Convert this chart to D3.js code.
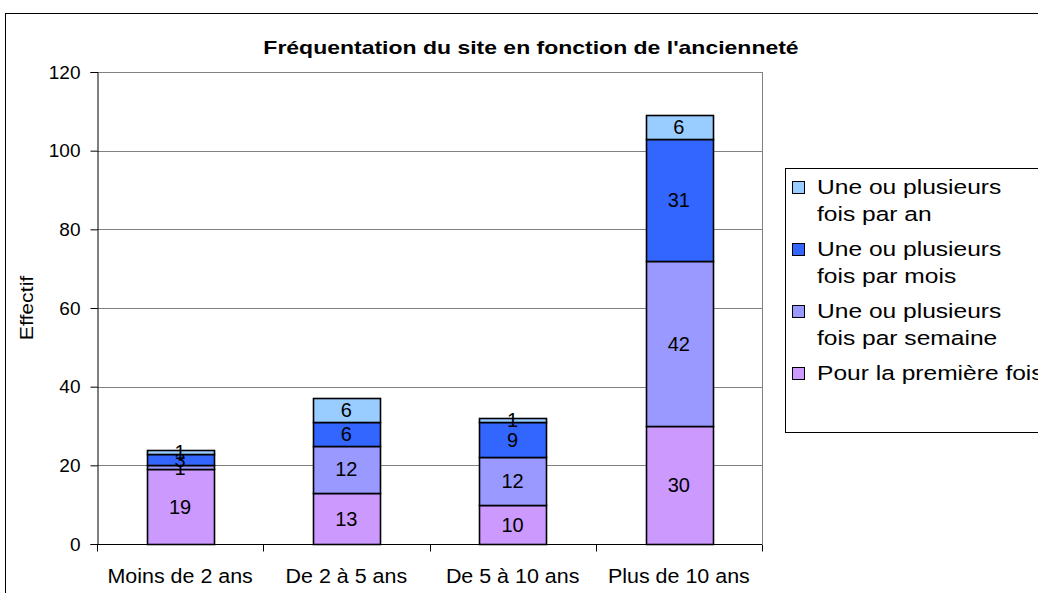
<!DOCTYPE html>
<html>
<head>
<meta charset="utf-8">
<script src="https://cdn.jsdelivr.net/npm/d3@7"></script>
<style>
  body { margin: 0; background: #fff; }
  text { font-family: "Liberation Sans", Arial, sans-serif; fill: #000; }
</style>
</head>
<body>
<div id="chart"></div>
<script>
// data
var categories = ["Moins de 2 ans", "De 2 à 5 ans", "De 5 à 10 ans", "Plus de 10 ans"];
var premiereFois = [19, 13, 10, 30];
var parSemaine = [1, 12, 12, 42];
var parMois = [3, 6, 9, 31];
var parAn = [1, 6, 1, 6];
var yTicks = [0, 20, 40, 60, 80, 100, 120];

var colors = ["#CC99FF", "#9999FF", "#3366FF", "#99CCFF"];
var legendLines = [
    ["Une ou plusieurs", "fois par an"],
    ["Une ou plusieurs", "fois par mois"],
    ["Une ou plusieurs", "fois par semaine"],
    ["Pour la première fois"]
];
var legendColors = [colors[3], colors[2], colors[1], colors[0]];

var width = 1038, height = 593;
var margin = {top: 72, right: 276, bottom: 49, left: 97};

var svg = d3.select("#chart").append("svg")
    .attr("width", width)
    .attr("height", height);

// text in the original is a bit wider than our font, so stretch it
function place(sel, x, y, sx, rot) {
    sel.attr("transform", "translate(" + x + "," + y + ")" + (rot ? " rotate(" + rot + ")" : "") + " scale(" + sx + ",1)");
}

// outer chart frame
svg.append("rect")
    .attr("x", 5.5).attr("y", 13.5)
    .attr("width", 1100).attr("height", 700)
    .attr("fill", "none").attr("stroke", "#000");

var x = d3.scaleBand()
    .domain(categories)
    .range([margin.left, width - margin.right])
    .paddingInner(0.6).paddingOuter(0.3);

var y = d3.scaleLinear()
    .domain([0, 120])
    .range([height - margin.bottom, margin.top]);

// gridlines
svg.append("g").selectAll("line")
    .data(yTicks.filter(function(d){ return d > 0; }))
    .enter().append("line")
    .attr("x1", margin.left).attr("x2", width - margin.right)
    .attr("y1", function(d){ return Math.round(y(d)) + 0.5; })
    .attr("y2", function(d){ return Math.round(y(d)) + 0.5; })
    .attr("stroke", "#808080");

svg.append("line")
    .attr("x1", width - margin.right + 0.5).attr("x2", width - margin.right + 0.5)
    .attr("y1", margin.top).attr("y2", height - margin.bottom)
    .attr("stroke", "#808080");

// stack
var table = categories.map(function(c, i){
    return {cat: c, s0: premiereFois[i], s1: parSemaine[i], s2: parMois[i], s3: parAn[i]};
});
var stack = d3.stack().keys(["s0", "s1", "s2", "s3"]);
var layers = stack(table);

var groups = svg.append("g").selectAll("g")
    .data(layers)
    .enter().append("g")
    .attr("fill", function(d, i){ return colors[i]; });

groups.selectAll("rect")
    .data(function(d){ return d; })
    .enter().append("rect")
    .attr("x", function(d){ return Math.round(x(d.data.cat)) + 0.5; })
    .attr("width", Math.round(x.bandwidth()))
    .attr("y", function(d){ return Math.round(y(d[1])) + 0.5; })
    .attr("height", function(d){ return Math.round(y(d[0])) - Math.round(y(d[1])); })
    .attr("stroke", "#000")
    .attr("stroke-width", 1.6);

groups.selectAll("text")
    .data(function(d){ return d; })
    .enter().append("text")
    .attr("x", function(d){ return x(d.data.cat) + x.bandwidth() / 2; })
    .attr("y", function(d){ return (y(d[0]) + y(d[1])) / 2; })
    .attr("dy", "0.36em")
    .attr("text-anchor", "middle")
    .style("font-size", "20px")
    .text(function(d){ return d[1] - d[0]; });

// y axis
var yAxis = svg.append("g")
    .attr("transform", "translate(" + (margin.left + 0.5) + ",0)")
    .call(d3.axisLeft(y).tickValues(yTicks).tickSize(7).tickPadding(10));
yAxis.selectAll("text").style("font-size", "19px")
    .style("font-family", "Liberation Sans, Arial, sans-serif");
yAxis.selectAll("line").attr("stroke", "#000");
yAxis.select(".domain").attr("stroke", "#000");

// x axis
var xAxisG = svg.append("g")
    .attr("transform", "translate(0," + (height - margin.bottom + 0.5) + ")");
xAxisG.append("line")
    .attr("x1", margin.left).attr("x2", width - margin.right)
    .attr("stroke", "#000");
var bounds = d3.range(categories.length + 1).map(function(i){
    return margin.left + i * (width - margin.right - margin.left) / categories.length;
});
xAxisG.selectAll(".tk").data(bounds).enter().append("line")
    .attr("class", "tk")
    .attr("x1", function(d){ return Math.round(d) + 0.5; })
    .attr("x2", function(d){ return Math.round(d) + 0.5; })
    .attr("y1", 0).attr("y2", 7)
    .attr("stroke", "#000");
xAxisG.selectAll(".lbl").data(categories).enter().append("text")
    .attr("class", "lbl")
    .attr("text-anchor", "middle")
    .style("font-size", "19.5px")
    .text(function(d){ return d; })
    .each(function(d){ place(d3.select(this), x(d) + x.bandwidth() / 2, 38, 1.1); });

// y label
var yl = svg.append("text")
    .attr("text-anchor", "middle")
    .style("font-size", "18px")
    .text("Effectif");
place(yl, 33, 308, 1.18, -90);

// title
var title = svg.append("text")
    .attr("text-anchor", "middle")
    .style("font-size", "19px")
    .style("font-weight", "bold")
    .text("Fréquentation du site en fonction de l'ancienneté");
place(title, 531, 54, 1.21);

// legend
var legend = svg.append("g");
legend.append("rect")
    .attr("x", 785.5).attr("y", 168.5)
    .attr("width", 300).attr("height", 264)
    .attr("fill", "#fff").attr("stroke", "#000");

var itemY = [187, 249, 311, 373];
legendLines.forEach(function(lines, i){
    legend.append("rect")
        .attr("x", 792.5).attr("y", itemY[i] - 5.5)
        .attr("width", 12).attr("height", 12)
        .attr("fill", legendColors[i])
        .attr("stroke", "#000");
    lines.forEach(function(t, j){
        var tx = legend.append("text")
            .attr("dy", "0.36em")
            .style("font-size", "19.5px")
            .text(t);
        place(tx, 817, itemY[i] + j * 27, 1.26);
    });
});
</script>
</body>
</html>
